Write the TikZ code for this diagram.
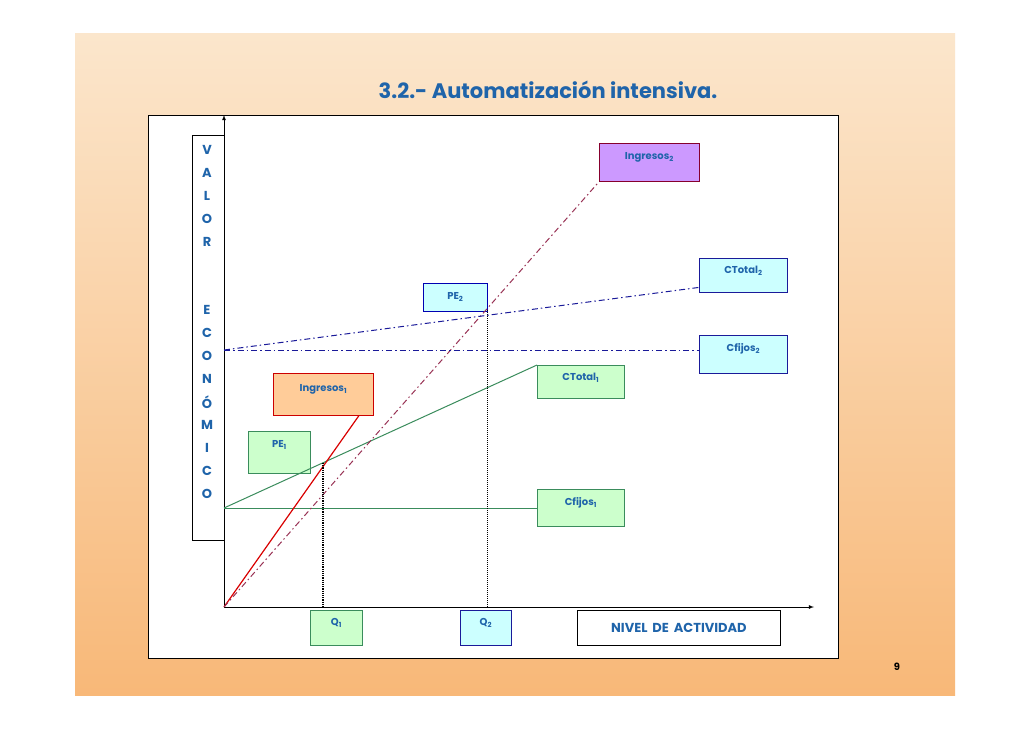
\documentclass[tikz,border=0pt]{standalone}
\usepackage{fontspec}
\setmainfont{Poppins}
\begin{document}
\begin{tikzpicture}[x=1pt,y=-1pt,
  txt/.style={text=tblue,font=\bfseries\fontsize{10}{11}\selectfont},
  bx/.style={draw,line width=0.8pt,inner sep=0pt,anchor=north west},
  gbox/.style={bx,draw=ggreen,fill=lgreen},
  cbox/.style={bx,draw=navy,fill=lcyan},
  green line/.style={draw=ggreen,line width=1pt},
  dd/.style={dash pattern=on 6pt off 3pt on 1.5pt off 3pt,line width=1pt}]
\definecolor{tblue}{HTML}{1F64AA}
\definecolor{ggreen}{HTML}{3A8C5C}
\definecolor{lgreen}{HTML}{CCFFCC}
\definecolor{lcyan}{HTML}{CCFFFF}
\definecolor{navy}{HTML}{1A1A99}
\definecolor{maroon}{HTML}{993355}
\useasboundingbox (0,0) rectangle (1030,728);
\fill[white] (0,0) rectangle (1030,728);
\shade[top color={rgb,255:red,251;green,230;blue,204},bottom color={rgb,255:red,248;green,184;blue,120}] (75,33) rectangle (955,695);
\node[text=tblue,font=\bfseries\fontsize{21}{24}\selectfont] (title) at (548,90) {3.2.- Automatización intensiva.};
\node[draw=black,fill=white,line width=0.8pt,minimum width=690,minimum height=543,anchor=north west,inner sep=0pt] (frame) at (148,115) {};
\node[draw=black,fill=white,line width=0.8pt,minimum width=32,minimum height=405,anchor=north west,inner sep=0pt] (vbox) at (192,135) {};
\foreach \l/\y in {V/150,A/173,L/196,O/219,R/242,E/310,C/333,O/356,N/379,Ó/402,M/425,I/448,C/471,O/494}
  \node[txt,font=\bfseries\fontsize{13}{14}\selectfont] at (207,\y) {\l};
\coordinate (O) at (224,607);
\coordinate (ytop) at (224,115);
\coordinate (xend) at (814,607);
\draw[-latex,line width=0.8pt] (O) -- (ytop);
\draw[-latex,line width=0.8pt] (O) -- (xend);
% boxes
\node[bx,draw=purple!70!black,fill={rgb,255:red,204;green,153;blue,255},minimum width=100,minimum height=38] (ing2) at (599,143) {};
\node[txt,anchor=north] at ([yshift=-6]ing2.north) {Ingresos$_{\mathbf 2}$};
\node[cbox,minimum width=88,minimum height=34] (ct2) at (699,258) {};
\node[txt,anchor=north] at ([yshift=-5]ct2.north) {CTotal$_{\mathbf 2}$};
\node[cbox,minimum width=88,minimum height=38] (cf2) at (699,335) {};
\node[txt,anchor=north] at ([yshift=-5]cf2.north) {Cfijos$_{\mathbf 2}$};
\node[gbox,minimum width=87,minimum height=33] (ct1) at (537,365) {};
\node[txt,anchor=north] at ([yshift=-5]ct1.north) {CTotal$_{\mathbf 1}$};
\node[gbox,minimum width=87,minimum height=37] (cf1) at (537,489) {};
\node[txt,anchor=north] at ([yshift=-5]cf1.north) {Cfijos$_{\mathbf 1}$};
\node[bx,draw=red!80!black,fill={rgb,255:red,255;green,204;blue,153},minimum width=100,minimum height=42] (ing1) at (273,373) {};
\node[txt,anchor=north] at ([yshift=-8]ing1.north) {Ingresos$_{\mathbf 1}$};
\node[gbox,minimum width=62,minimum height=42] (pe1) at (248,431) {};
\node[txt,anchor=north] at ([yshift=-6]pe1.north) {PE$_{\mathbf 1}$};
\node[cbox,draw=blue!70!black,minimum width=64,minimum height=28] (pe2) at (423,283) {};
\node[txt,anchor=north] at ([yshift=-6]pe2.north) {PE$_{\mathbf 2}$};
\node[gbox,minimum width=52,minimum height=35] (q1) at (310,610) {};
\node[txt,anchor=north] at ([yshift=-5]q1.north) {Q$_{\mathbf 1}$};
\node[cbox,minimum width=51,minimum height=35] (q2) at (460,610) {};
\node[txt,anchor=north] at ([yshift=-5]q2.north) {Q$_{\mathbf 2}$};
\node[bx,draw=black,fill=white,minimum width=203,minimum height=35,txt,font=\bfseries\fontsize{13}{15}\selectfont] (nivel) at (577,610) {NIVEL\, DE\, ACTIVIDAD};
\node[font=\bfseries\fontsize{10}{12}\selectfont] (pg) at (897,667) {9};
% lines
\coordinate (F1) at (224,508);
\coordinate (F2) at (224,350);
\coordinate (P1) at (323,463);
\coordinate (P2) at (487,310);
\draw[green line] (F1) -- (F1 -| cf1.west);
\draw[green line] (F1) -- (ct1.north west);
\draw[draw=red!85!black,line width=1.2pt] (O) -- ([xshift=-15]ing1.south east);
\draw[dd,draw=maroon] (O) -- (ing2.south west);
\draw[dd,draw=navy] (F2) -- (F2 -| cf2.west);
\draw[dd,draw=navy] (F2) -- ([yshift=-12]ct2.west);
\draw[densely dotted,line width=1.2pt] (P1) -- (P1 |- O);
\draw[densely dotted,line width=1pt] (P2) -- (P2 |- O);
\end{tikzpicture}
\end{document}
